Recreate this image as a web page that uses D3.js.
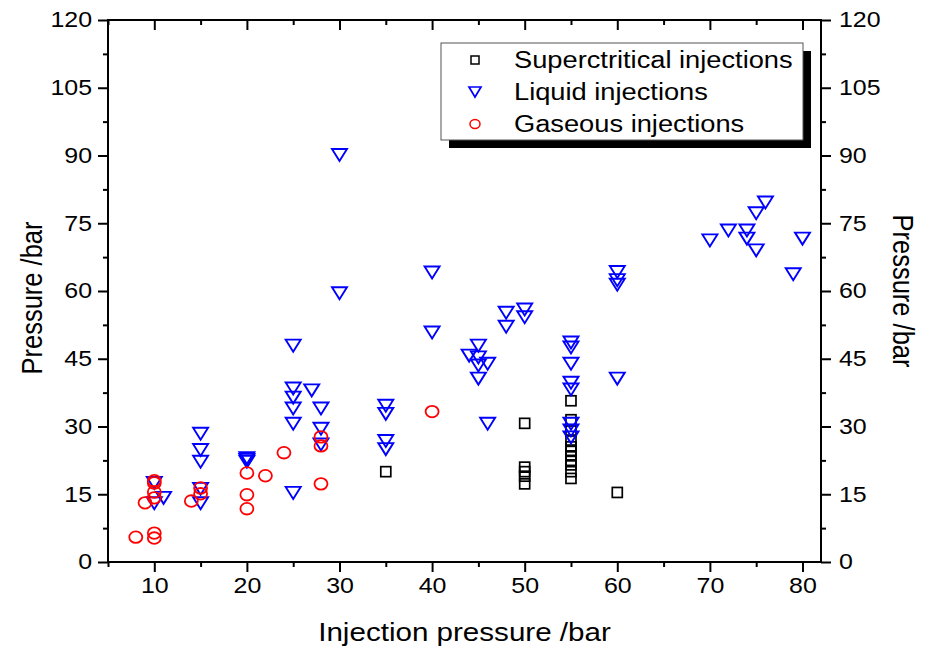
<!DOCTYPE html>
<html>
<head>
<meta charset="utf-8">
<script src="https://cdn.jsdelivr.net/npm/d3@7"></script>
<style>
  body { margin: 0; background: #fff; }
  svg { display: block; font-family: "Liberation Sans", Arial, sans-serif; }
</style>
</head>
<body>
<svg id="chart" width="929" height="652"></svg>
<script>
// ---- data ----
const superX = [35, 50, 50, 50, 50, 50, 55, 55, 55, 55, 55, 55, 55, 55, 55, 55, 55, 60];
const superY = [20, 30.7, 21, 20, 19, 17.3, 35.7, 31.5, 29, 27, 25.5, 24.5, 23.5, 22.5, 21.5, 20, 18.5, 15.4];

const liquidX = [10, 10, 11,
  15, 15, 15, 15, 15,
  20, 20, 20,
  25, 25, 25, 25, 25, 25,
  27, 28, 28, 28,
  30, 30,
  35, 35, 35, 35,
  40, 40,
  44, 45, 45, 45, 45, 46, 46,
  48, 48, 50, 50,
  55, 55, 55, 55, 55, 55, 55, 55,
  60, 60, 60, 60,
  70, 72, 74, 74, 75, 75, 76, 79, 80];
const liquidY = [13, 17.5, 14.2,
  28.4, 24.8, 22.2, 16.2, 13,
  23, 22.6, 22.2,
  47.9, 38.4, 36.4, 34, 30.6, 15.3,
  38, 34, 29.5, 26,
  90.1, 59.5,
  34.6, 32.8, 26.8, 25,
  64.1, 50.8,
  45.7, 47.9, 45.3, 43.5, 40.6, 43.9, 30.6,
  55.2, 52.1, 55.9, 54.2,
  48.6, 47.5, 43.9, 39.7, 38.2, 30.6, 29.1, 27.6,
  64.2, 62.4, 61.4, 40.6,
  71.2, 73.4, 73.4, 71.6, 77.2, 69, 79.6, 63.7, 71.6];

const gasX = [8, 10, 10, 9, 10, 10, 10, 10, 14, 15, 15, 20, 20, 20, 22, 24, 28, 28, 28, 40];
const gasY = [5.5, 6.4, 5.3, 13.1, 18, 17.5, 15.5, 14.2, 13.5, 16.4, 15.1, 19.7, 14.9, 11.8, 19.1, 24.2, 27.7, 25.7, 17.3, 33.3];

const xTicks = [10, 20, 30, 40, 50, 60, 70, 80];
const yTicks = [0, 15, 30, 45, 60, 75, 90, 105, 120];
const legendLabels = ["Superctritical injections", "Liquid injections", "Gaseous injections"];

// ---- layout ----
const svg = d3.select("#chart");
const L = 108, R = 821, T = 20, B = 562;
const SX = 1.16; // horizontal stretch of the reference's lettering
const x = d3.scaleLinear().domain([5, 82]).range([L, R]);
const y = d3.scaleLinear().domain([0, 120]).range([B, T]);

const xMinor = d3.range(5, 82, 5).filter(v => v % 10 !== 0);
const yMinor = d3.range(7.5, 120, 15);

const majorLen = 10, minorLen = 5;
const tickFont = "21.5px";

function styleAxis(g) {
  g.select(".domain").remove();
  g.selectAll("line").attr("stroke", "#000").attr("stroke-width", 2);
  g.selectAll("text").attr("font-size", tickFont).attr("fill", "#000")
    .attr("font-family", "'Liberation Sans', Arial, sans-serif")
    .each(function() {
      const t = d3.select(this);
      const xv = +t.attr("x") || 0;
      t.attr("x", xv / SX).attr("transform", `scale(${SX},1)`);
    });
}

// bottom axis
svg.append("g").attr("transform", `translate(0,${B})`)
  .call(d3.axisBottom(x).tickValues(xTicks).tickSize(majorLen).tickPadding(6).tickFormat(d3.format("d")))
  .call(styleAxis);
svg.append("g").attr("transform", `translate(0,${B})`)
  .call(d3.axisBottom(x).tickValues(xMinor).tickSize(minorLen).tickFormat(""))
  .call(styleAxis);
// top axis (ticks inward)
svg.append("g").attr("transform", `translate(0,${T})`)
  .call(d3.axisBottom(x).tickValues(xTicks).tickSize(majorLen).tickFormat(""))
  .call(styleAxis);
svg.append("g").attr("transform", `translate(0,${T})`)
  .call(d3.axisBottom(x).tickValues(xMinor).tickSize(minorLen).tickFormat(""))
  .call(styleAxis);
// left axis
svg.append("g").attr("transform", `translate(${L},0)`)
  .call(d3.axisLeft(y).tickValues(yTicks).tickSize(majorLen).tickPadding(6).tickFormat(d3.format("d")))
  .call(styleAxis);
svg.append("g").attr("transform", `translate(${L},0)`)
  .call(d3.axisLeft(y).tickValues(yMinor).tickSize(minorLen).tickFormat(""))
  .call(styleAxis);
// right axis
svg.append("g").attr("transform", `translate(${R},0)`)
  .call(d3.axisRight(y).tickValues(yTicks).tickSize(majorLen).tickPadding(8).tickFormat(d3.format("d")))
  .call(styleAxis);
svg.append("g").attr("transform", `translate(${R},0)`)
  .call(d3.axisRight(y).tickValues(yMinor).tickSize(minorLen).tickFormat(""))
  .call(styleAxis);

// frame
svg.append("rect").attr("x", L).attr("y", T).attr("width", R - L).attr("height", B - T)
  .attr("fill", "none").attr("stroke", "#000").attr("stroke-width", 2);

// axis titles
svg.append("text").attr("transform", `translate(${(L + R) / 2},641) scale(${SX},1)`).attr("text-anchor", "middle")
  .attr("font-size", "25.5px").text("Injection pressure /bar");
svg.append("text").attr("transform", `translate(42,298) scale(${SX},1) rotate(-90)`).attr("text-anchor", "middle")
  .attr("font-size", "25.5px").text("Pressure /bar");
svg.append("text").attr("transform", `translate(893,291) scale(${SX},1) rotate(90)`).attr("text-anchor", "middle")
  .attr("font-size", "25.5px").text("Pressure /bar");

// symbols
const triPath = (w, h) => `M${-w/2},${-h/2}L${w/2},${-h/2}L0,${h/2}Z`;

const superData = superX.map((v, i) => ({ x: v, y: superY[i] }));
const liquidData = liquidX.map((v, i) => ({ x: v, y: liquidY[i] }));
const gasData = gasX.map((v, i) => ({ x: v, y: gasY[i] }));

const plot = svg.append("g");
plot.selectAll("rect.sq").data(superData).join("rect").attr("class", "sq")
  .attr("x", d => x(d.x) - 5).attr("y", d => y(d.y) - 5).attr("width", 10).attr("height", 10)
  .attr("fill", "none").attr("stroke", "#000").attr("stroke-width", 1.7);
plot.selectAll("path.tri").data(liquidData).join("path").attr("class", "tri")
  .attr("transform", d => `translate(${x(d.x)},${y(d.y)})`)
  .attr("d", triPath(15, 12))
  .attr("fill", "none").attr("stroke", "#0000ff").attr("stroke-width", 1.9);
plot.selectAll("ellipse.gas").data(gasData).join("ellipse").attr("class", "gas")
  .attr("cx", d => x(d.x)).attr("cy", d => y(d.y)).attr("rx", 6.5).attr("ry", 5.8)
  .attr("fill", "none").attr("stroke", "#ff0000").attr("stroke-width", 1.8);

// legend
const lg = svg.append("g");
lg.append("rect").attr("x", 449).attr("y", 51).attr("width", 362).attr("height", 97).attr("fill", "#000");
lg.append("rect").attr("x", 441).attr("y", 43).attr("width", 362).attr("height", 97)
  .attr("fill", "#fff").attr("stroke", "#555").attr("stroke-width", 1);
const rowsY = [60, 92, 124];
const sx = 475;
lg.append("rect").attr("x", sx - 4).attr("y", rowsY[0] - 4).attr("width", 8).attr("height", 8)
  .attr("fill", "none").attr("stroke", "#000").attr("stroke-width", 1.5);
lg.append("path").attr("transform", `translate(${sx},${rowsY[1]})`).attr("d", triPath(12, 10))
  .attr("fill", "none").attr("stroke", "#0000ff").attr("stroke-width", 1.7);
lg.append("ellipse").attr("cx", sx).attr("cy", rowsY[2]).attr("rx", 5).attr("ry", 4.5)
  .attr("fill", "none").attr("stroke", "#ff0000").attr("stroke-width", 1.5);
legendLabels.forEach((t, i) => {
  lg.append("text").attr("transform", `translate(514,${rowsY[i]}) scale(${SX},1)`).attr("dy", "0.36em")
    .attr("font-size", "23.5px").text(t);
});
</script>
</body>
</html>
